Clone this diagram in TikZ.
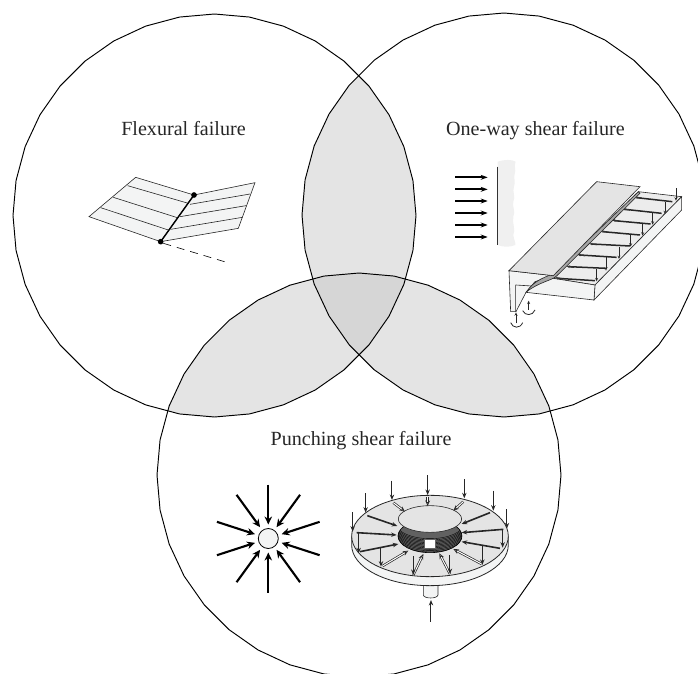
\documentclass[tikz,border=0pt]{standalone}
\usepackage{fontspec}
\setmainfont{Liberation Serif}
\usetikzlibrary{arrows.meta}
\definecolor{lensgrey}{HTML}{E4E4E4}
\definecolor{coregrey}{HTML}{D6D6D6}
\definecolor{pale}{HTML}{F3F4F4}
\tikzset{
  ring/.style={draw=black,line width=.95pt},
  caption/.style={font=\fontsize{20.1}{22}\selectfont,text=black!85,inner sep=0pt,anchor=base},
  loadarrow/.style={line width=1.8pt,-{Stealth[length=7pt,width=5pt]}},
  burst/.style={line width=2.1pt,-{Stealth[length=8pt,width=7.5pt]}},
  thinedge/.style={draw=black!85,line width=.6pt},
  openload/.style={line width=1pt,draw=black!85,-{Stealth[open,fill=white,length=5.5pt,width=4.4pt]}},
  ribbar/.style={line width=1.6pt,draw=black!85,-{Stealth[open,fill=white,length=5.5pt,width=4.4pt]}},
  ribdouble/.style={line width=.7pt,draw=black!85,double=white,double distance=1pt,-{Stealth[open,fill=white,length=5.5pt,width=4.8pt]}},
  ribbarb/.style={line width=1.2pt,draw=black!80,-{Stealth[open,fill=white,length=3pt,width=2.6pt]}},
  smalltip/.style={line width=.8pt,draw=black!85,-{Stealth[open,fill=white,length=3.4pt,width=3pt]}},
}
\begin{document}
\begin{tikzpicture}[x=1pt,y=-1pt]
\useasboundingbox (0,0) rectangle (698,673);
\clip (0,0) rectangle (698,673);
\def\cA{plot[samples=37,domain=0:360] ({214.5+201.5*cos(\x)},{215.5+201.5*sin(\x)}) -- cycle}
\def\cB{plot[samples=37,domain=0:360] ({504+202*cos(\x)},{215+202*sin(\x)}) -- cycle}
\def\cC{plot[samples=37,domain=0:360] ({359+202*cos(\x)},{475+202*sin(\x)}) -- cycle}
% overlaps
\begin{scope}\clip \cA; \fill[lensgrey] \cB; \end{scope}
\begin{scope}\clip \cA; \fill[lensgrey] \cC; \end{scope}
\begin{scope}\clip \cB; \fill[lensgrey] \cC; \end{scope}
\begin{scope}\clip \cA; \clip \cB; \fill[coregrey] \cC; \end{scope}
\draw[ring] \cA;
\draw[ring] \cB;
\draw[ring] \cC;
\node[caption] (flexcap) at (183.5,135) {Flexural failure};
\node[caption] (shearcap) at (535.4,135) {One-way shear failure};
\node[caption] (punchcap) at (361,445) {Punching shear failure};
% flexural sketch
\begin{scope}[shift={(80,170)},x=.3333pt,y=-.3333pt]
  \filldraw[fill=pale,thinedge] (167,22)--(342,75)--(242,215)--(27,140)--cycle;
  \filldraw[fill=pale,thinedge] (342,75)--(525,38)--(475,175)--(242,215)--cycle;
  \draw[thinedge] (143,47)--(325,100) (100,82)--(292,143) (62,113)--(265,180);
  \draw[thinedge] (330,103)--(510,72) (300,140)--(498,107) (272,178)--(487,142);
  \draw[line width=1.4pt] (342,75)--(242,215);
  \fill (342,75) circle[radius=8.5] (242,215) circle[radius=8.5];
  \draw[line width=.6pt,dash pattern=on 8pt off 6pt] (250,220)--(440,277);
\end{scope}
% one-way shear sketch
\begin{scope}[shift={(420,150)},x=.3333pt,y=-.3333pt]
  \fill[black!6] (233,35) .. controls (255,28) and (275,28) .. (287,35)
     .. controls (280,50) and (290,60) .. (284,72) .. controls (280,85) and (288,95) .. (282,110)
     .. controls (276,125) and (288,140) .. (280,155) .. controls (276,170) and (288,185) .. (280,200)
     .. controls (276,220) and (288,240) .. (280,255) .. controls (282,270) and (288,280) .. (286,285)
     .. controls (270,292) and (250,292) .. (233,285) -- cycle;
  \draw[line width=.9pt,black!80] (233,50)--(233,285);
  \foreach \yy in {82,118,153,189,225,261}
    \draw[loadarrow] (105,\yy)--(203,\yy);
  % floor and edges
  \filldraw[fill=lensgrey!70,thinedge] (655,125)--(785,140)--(525,405)--(400,385)--cycle;
  \filldraw[fill=pale,thinedge] (785,140)--(785,180)--(522,450)--(525,405)--cycle;
  \filldraw[fill=pale,thinedge] (400,385)--(525,405)--(522,450)--(318,427)--(345,395)--cycle;
  \filldraw[fill=pale,thinedge] (267,362)--(400,377)--(345,395)--(318,427)--(288,485)--(272,485)--cycle;
  \draw[thinedge] (287,405)--(287,485) (287,405)--(335,408);
  % ribs
  \foreach \xa/\ya/\xb/\yb in {650/143/757/155,615/178/725/190,583/212/692/222,548/245/660/255,515/282/630/288,480/315/590/322,447/350/558/355,412/385/525/392}
    \draw[line width=1.5pt,black!85] (\xa,\ya)--(\xb,\yb);
  \foreach \xa/\ya/\xb/\yb in {735/155/735/192,698/190/698/224,668/222/668/257,632/255/632/290,597/290/597/327,558/322/558/362,530/358/530/394,768/115/768/152}
    \draw[smalltip] (\xa,\ya)--(\xb,\yb);
  \foreach \xa/\ya/\xb/\yb in {665/144/643/141,630/180/608/177,598/213/576/210,563/246/541/243,530/284/508/281,495/317/473/314,462/352/440/349,427/386/405/383}
    \draw[ribbarb] (\xa,\ya)--(\xb,\yb);
  % web
  \filldraw[fill=black!35,thinedge] (655,125)--(660,130)--(410,378) .. controls (395,392) and (360,395) .. (320,425)
     .. controls (340,395) and (365,385) .. (398,372) -- cycle;
  % slab
  \filldraw[fill=lensgrey,thinedge] (530,95)--(660,110)--(400,377)--(267,362)--cycle;
  % end moments
  \draw[smalltip] (288,520)--(288,487);
  \draw[smalltip] (326,480)--(326,452);
  \draw[line width=.8pt,black!85] (272,518) .. controls (278,535) and (300,537) .. (308,518);
  \draw[line width=.8pt,black!85] (308,482) .. controls (315,498) and (338,498) .. (345,480);
\end{scope}
% punching: radial arrows
\begin{scope}[shift={(268.3,538.5)}]
  \foreach \ang in {18,54,...,342}
    \draw[burst] (\ang:54)--(\ang:14);
  \filldraw[fill=pale,draw=black,line width=.8pt] (0,0) circle[radius=10];
\end{scope}
% punching: slab
\begin{scope}[shift={(200,400)},x=.3333pt,y=-.3333pt]
  \filldraw[fill=pale,thinedge] (670,555)--(670,585) .. controls (672,597) and (712,597) .. (714,585)--(714,555)--cycle;
  \filldraw[fill=pale,thinedge,line width=.8pt] (455,408)--(455,435) arc[start angle=180,end angle=0,x radius=235,y radius=122]--(925,408)--cycle;
  \filldraw[fill=lensgrey,thinedge,line width=.8pt] (690,408) ellipse[x radius=235,y radius=122];
  \filldraw[fill=black!62,draw=black,line width=.6pt] (690,408) ellipse[x radius=96,y radius=50];
  \begin{scope}
    \clip (690,408) ellipse[x radius=96,y radius=50];
    \foreach \k in {0,4,...,44}
      \draw[black,line width=.35pt] (590,{372+\k}) arc[start angle=180,end angle=0,x radius=100,y radius=44];
  \end{scope}
  \filldraw[fill=white,draw=black!60,line width=.4pt] (674,418) rectangle (707,446);
  \filldraw[fill=lensgrey,thinedge] (690,357) ellipse[x radius=95,y radius=40];
  \foreach \xa/\ya/\xb/\yb in {502/347/592/378,870/338/785/372,470/398/590/405,910/388/785/398,480/455/595/432,900/445/785/425}
    \draw[ribbar] (\xa,\ya)--(\xb,\yb);
  \foreach \xa/\ya/\xb/\yb in {683/290/683/318,580/308/615/335,790/305/760/332,548/498/625/452,845/492/760/447,640/525/670/462,750/522/718/460}
    \draw[ribdouble] (\xa,\ya)--(\xb,\yb);
  \foreach \xa/\ya/\xb/\yb in {683/225/683/285,576/242/576/300,793/238/793/295,497/280/497/338,880/272/880/332,458/337/458/395,921/328/921/385,640/468/640/525,750/465/750/522,543/445/543/500,847/435/847/495,476/400/476/460,908/388/908/443,693/665/693/600}
    \draw[openload] (\xa,\ya)--(\xb,\yb);
\end{scope}
\end{tikzpicture}
\end{document}
